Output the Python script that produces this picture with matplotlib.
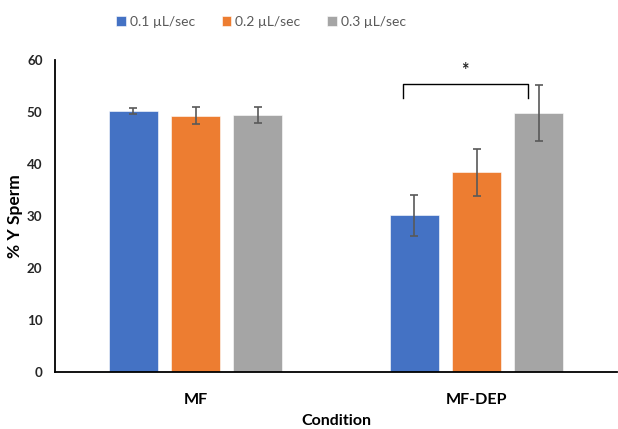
import matplotlib
matplotlib.use("Agg")
import matplotlib.pyplot as plt
import numpy as np

conditions = ["MF", "MF-DEP"]
series_labels = ["0.1 \u00b5L/sec", "0.2 \u00b5L/sec", "0.3 \u00b5L/sec"]
vals_01 = [50.2, 30.1]
vals_02 = [49.3, 38.4]
vals_03 = [49.4, 49.8]
err_01 = [0.65, 4.0]
err_02 = [1.7, 4.5]
err_03 = [1.6, 5.3]
colors = ["#4472C4", "#ED7D31", "#A5A5A5"]
yticks = [0, 10, 20, 30, 40, 50, 60]

plt.rcParams['font.family'] = ['Lato', 'DejaVu Sans']

fig = plt.figure(figsize=(6.18, 4.29), dpi=100)
ax = fig.add_axes([55/618, 1-372/429, (617-55)/618, (372-60)/429])

x = np.arange(len(conditions))
width = 0.1746
step = 0.222
values = [vals_01, vals_02, vals_03]
errs = [err_01, err_02, err_03]
for i, (v, e, c, lab) in enumerate(zip(values, errs, colors, series_labels)):
    ax.bar(x + (i-1)*step, v, width, color=c, label=lab, edgecolor='white', linewidth=0.4, zorder=2)
    ax.errorbar(x + (i-1)*step, v, yerr=e, fmt='none', ecolor='#595959', elinewidth=1.2,
                capsize=2.6, capthick=1.2, zorder=3)

# significance bracket between 0.1 and 0.3 in MF-DEP
bx0 = x[1] - step - 0.04
bx1 = x[1] + step - 0.04
by = 55.3
ax.plot([bx0, bx0, bx1, bx1], [by-2.6, by, by, by-2.6], color='black', lw=1.0, zorder=3,
        clip_on=False)
ax.text((bx0+bx1)/2, 58.0, "*", ha='center', va='center', fontsize=13, fontweight='bold',
        color='#262626')

ax.set_xlim(-0.5, 1.5)
ax.set_ylim(0, 60)
ax.set_yticks(yticks)
ax.set_yticklabels([str(t) for t in yticks], fontsize=9.6, fontweight='bold', color='#262626')
ax.set_xticks(x)
ax.set_xticklabels(conditions, fontsize=11.6, fontweight='bold', color='#000000')
ax.tick_params(axis='y', length=0, pad=9)
ax.tick_params(axis='x', length=0, pad=15)
for s in ['top', 'right']:
    ax.spines[s].set_visible(False)
ax.spines['left'].set_linewidth(1.3)
ax.spines['bottom'].set_linewidth(1.3)
ax.set_ylabel("% Y Sperm", fontsize=12.5, fontweight='bold', labelpad=3)
ax.set_xlabel("Condition", fontsize=11.5, fontweight='bold', labelpad=5)

leg = fig.legend(loc='center', bbox_to_anchor=(261/618, 1-22/429), ncol=3, frameon=False,
                 fontsize=10, handlelength=0.7, handleheight=0.7, handletextpad=0.3,
                 columnspacing=1.9, labelcolor='#595959')

fig.savefig("out.png", dpi=100)
